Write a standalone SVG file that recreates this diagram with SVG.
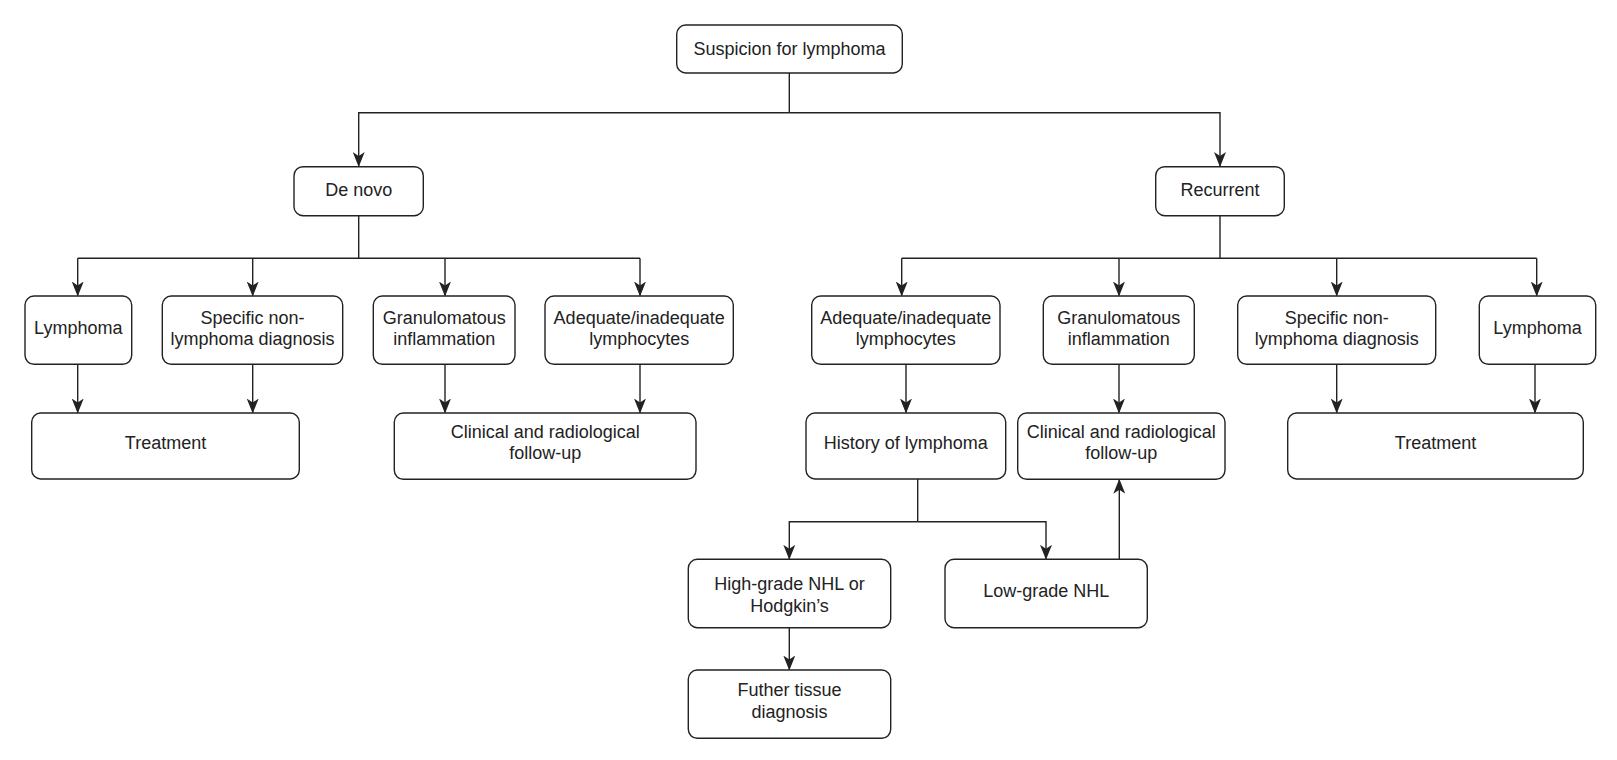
<svg xmlns="http://www.w3.org/2000/svg" width="1617" height="760" viewBox="0 0 1617 760">
  <style>
    .box { fill: #ffffff; stroke: #222222; stroke-width: 1.4; }
    .lbl { font-family: "Liberation Sans", Arial, sans-serif; font-size: 18px; fill: #222222; text-anchor: middle; }
    .wire { fill: none; stroke: #222222; stroke-width: 1.4; }
    .arr { marker-end: url(#head); }
  </style>
  <defs>
    <marker id="head" viewBox="0 0 15 12" refX="14" refY="6" markerWidth="15" markerHeight="12" markerUnits="userSpaceOnUse" orient="auto">
      <path d="M0,0 L15,6 L0,12 L4,6 z" fill="#222222"/>
    </marker>
  </defs>

  <rect width="1617" height="760" fill="#ffffff"/>

  <!-- connectors -->
  <g id="connectors">
    <!-- root split -->
    <path class="wire" d="M789.3,73 V112.7"/>
    <path class="wire arr" d="M789.3,112.7 H358.7 V166"/>
    <path class="wire arr" d="M789.3,112.7 H1220 V166"/>

    <!-- de novo branch -->
    <path class="wire" d="M358.7,215.7 V258.3 M77.7,258.3 H640"/>
    <path class="wire arr" d="M77.7,258.3 V295.5"/>
    <path class="wire arr" d="M252.7,258.3 V295.5"/>
    <path class="wire arr" d="M445,258.3 V295.5"/>
    <path class="wire arr" d="M640,258.3 V295.5"/>
    <path class="wire arr" d="M77.7,364.3 V412.5"/>
    <path class="wire arr" d="M252.7,364.3 V412.5"/>
    <path class="wire arr" d="M445,364.3 V412.5"/>
    <path class="wire arr" d="M640,364.3 V412.5"/>

    <!-- recurrent branch -->
    <path class="wire" d="M1220,215.7 V258.3 M901.7,258.3 H1536.7"/>
    <path class="wire arr" d="M901.7,258.3 V295.5"/>
    <path class="wire arr" d="M1119,258.3 V295.5"/>
    <path class="wire arr" d="M1336.7,258.3 V295.5"/>
    <path class="wire arr" d="M1536.7,258.3 V295.5"/>
    <path class="wire arr" d="M906,364.3 V412.5"/>
    <path class="wire arr" d="M1119,364.3 V412.5"/>
    <path class="wire arr" d="M1336.7,364.3 V412.5"/>
    <path class="wire arr" d="M1535,364.3 V412.5"/>

    <!-- history of lymphoma split -->
    <path class="wire" d="M917.7,479 V521.7"/>
    <path class="wire arr" d="M917.7,521.7 H789.3 V558.8"/>
    <path class="wire arr" d="M917.7,521.7 H1046 V558.8"/>
    <path class="wire arr" d="M1119.3,559.3 V479.8"/>
    <path class="wire arr" d="M789.3,627.7 V669.5"/>
  </g>

  <g id="suspicion">
    <rect class="box" x="676.7" y="25" width="225.6" height="48" rx="9"/>
    <text class="lbl" x="789.5" y="54.5">Suspicion for lymphoma</text>
  </g>

  <g id="de-novo">
    <rect class="box" x="294" y="166.7" width="129.3" height="49" rx="9"/>
    <text class="lbl" x="358.7" y="196">De novo</text>
  </g>

  <g id="recurrent">
    <rect class="box" x="1155.7" y="166.7" width="128.6" height="49" rx="9"/>
    <text class="lbl" x="1220" y="196">Recurrent</text>
  </g>

  <!-- de novo children -->
  <g id="dn-lymphoma">
    <rect class="box" x="25" y="296" width="106.7" height="68.3" rx="9"/>
    <text class="lbl" x="78.3" y="334">Lymphoma</text>
  </g>

  <g id="dn-specific">
    <rect class="box" x="162.3" y="296" width="180.4" height="68.3" rx="9"/>
    <text class="lbl" x="252.5" y="323.5">Specific non-</text>
    <text class="lbl" x="252.5" y="345">lymphoma diagnosis</text>
  </g>

  <g id="dn-granulomatous">
    <rect class="box" x="373.3" y="296" width="141.7" height="68.3" rx="9"/>
    <text class="lbl" x="444.2" y="323.5">Granulomatous</text>
    <text class="lbl" x="444.2" y="345">inflammation</text>
  </g>

  <g id="dn-adequate">
    <rect class="box" x="545" y="296" width="188.3" height="68.3" rx="9"/>
    <text class="lbl" x="639.2" y="323.5">Adequate/inadequate</text>
    <text class="lbl" x="639.2" y="345">lymphocytes</text>
  </g>

  <g id="dn-treatment">
    <rect class="box" x="31.7" y="413" width="267.6" height="66" rx="9"/>
    <text class="lbl" x="165.5" y="448.5">Treatment</text>
  </g>

  <g id="dn-followup">
    <rect class="box" x="394.3" y="413" width="301.7" height="66.3" rx="9"/>
    <text class="lbl" x="545.2" y="437.5">Clinical and radiological</text>
    <text class="lbl" x="545.2" y="459">follow-up</text>
  </g>

  <!-- recurrent children -->
  <g id="rc-adequate">
    <rect class="box" x="811.7" y="296" width="188.3" height="68.3" rx="9"/>
    <text class="lbl" x="905.8" y="323.5">Adequate/inadequate</text>
    <text class="lbl" x="905.8" y="345">lymphocytes</text>
  </g>

  <g id="rc-granulomatous">
    <rect class="box" x="1043.3" y="296" width="151" height="68.3" rx="9"/>
    <text class="lbl" x="1118.8" y="323.5">Granulomatous</text>
    <text class="lbl" x="1118.8" y="345">inflammation</text>
  </g>

  <g id="rc-specific">
    <rect class="box" x="1237.7" y="296" width="198" height="68.3" rx="9"/>
    <text class="lbl" x="1336.7" y="323.5">Specific non-</text>
    <text class="lbl" x="1336.7" y="345">lymphoma diagnosis</text>
  </g>

  <g id="rc-lymphoma">
    <rect class="box" x="1479.3" y="296" width="116.4" height="68.3" rx="9"/>
    <text class="lbl" x="1537.5" y="334">Lymphoma</text>
  </g>

  <g id="rc-history">
    <rect class="box" x="806" y="413" width="199.7" height="66" rx="9"/>
    <text class="lbl" x="905.8" y="448.5">History of lymphoma</text>
  </g>

  <g id="rc-followup">
    <rect class="box" x="1017.7" y="413" width="207.3" height="66.3" rx="9"/>
    <text class="lbl" x="1121.3" y="437.5">Clinical and radiological</text>
    <text class="lbl" x="1121.3" y="459">follow-up</text>
  </g>

  <g id="rc-treatment">
    <rect class="box" x="1287.7" y="413" width="295.6" height="66" rx="9"/>
    <text class="lbl" x="1435.5" y="448.5">Treatment</text>
  </g>

  <g id="high-grade">
    <rect class="box" x="688.3" y="559.3" width="202.4" height="68.4" rx="9"/>
    <text class="lbl" x="789.5" y="590">High-grade NHL or</text>
    <text class="lbl" x="789.5" y="611.5">Hodgkin’s</text>
  </g>

  <g id="low-grade">
    <rect class="box" x="945" y="559.3" width="202.3" height="68.4" rx="9"/>
    <text class="lbl" x="1046.2" y="596.5">Low-grade NHL</text>
  </g>

  <g id="further-tissue">
    <rect class="box" x="688.3" y="670" width="202.4" height="68.3" rx="9"/>
    <text class="lbl" x="789.5" y="696">Futher tissue</text>
    <text class="lbl" x="789.5" y="717.5">diagnosis</text>
  </g>
</svg>
